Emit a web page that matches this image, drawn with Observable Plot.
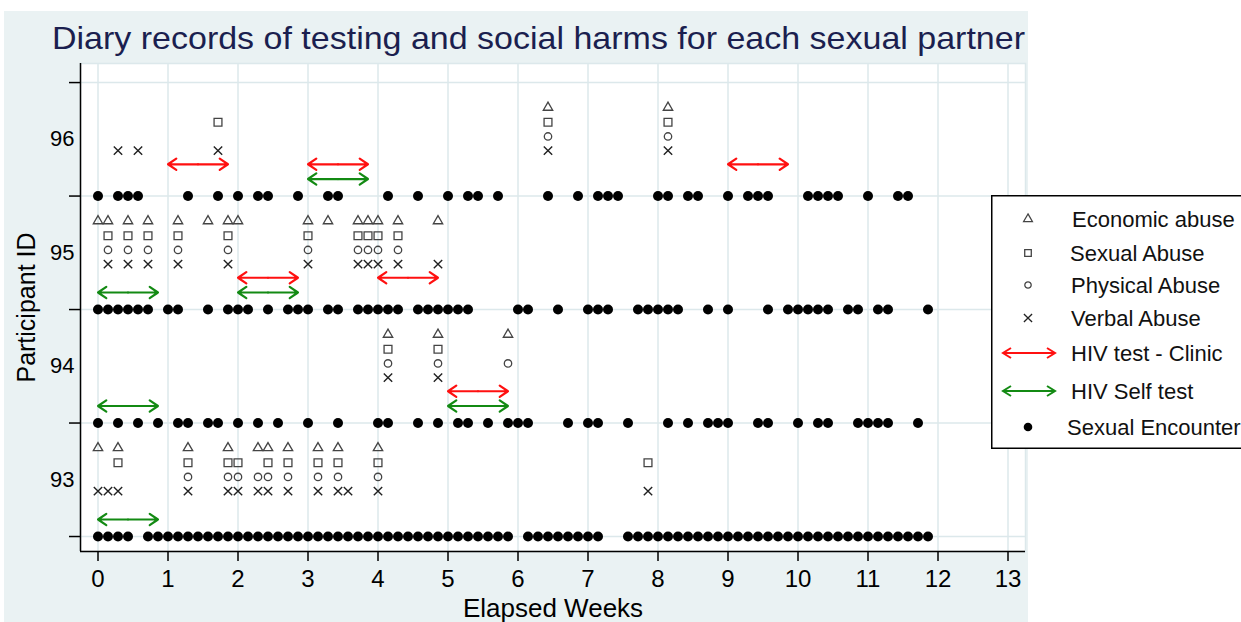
<!DOCTYPE html>
<html><head><meta charset="utf-8">
<script src="https://cdn.jsdelivr.net/npm/d3@7"></script>
<script src="https://cdn.jsdelivr.net/npm/@observablehq/plot@0.6"></script>
<style>
html,body{margin:0;padding:0;background:#fff;overflow:hidden;width:1241px;height:622px;}
#wrap{position:relative;width:1241px;height:622px;font-family:"Liberation Sans",Arial,sans-serif;overflow:hidden;}
#bg{position:absolute;left:4px;top:11px;width:1024px;height:611px;background:#eaf2f3;}
#chart{position:absolute;left:0;top:0;}
#title{position:absolute;left:0;top:0;}
#legend{position:absolute;left:991px;top:195px;}
</style></head><body>
<div id="wrap"><div id="bg"></div><div id="chart"></div><svg id="title" width="1241" height="62"></svg><svg id="legend" width="250" height="256"></svg></div>
<script>
// ---------- data ----------
const titleText = "Diary records of testing and social harms for each sexual partner";
const xLabel = "Elapsed Weeks";
const yLabel = "Participant ID";
const participants = [93, 94, 95, 96];
const weekTicks = [0,1,2,3,4,5,6,7,8,9,10,11,12,13];
const rowTicks = [92.5, 93.5, 94.5, 95.5, 96.5];

// sexual encounters (day of diary)
const encounter93 = [0,1,2,3,5,6,7,8,9,10,11,12,13,14,15,16,17,18,19,20,21,22,23,24,25,26,27,28,29,30,31,32,33,34,35,36,37,38,39,40,41,43,44,45,46,47,48,49,50,53,54,55,56,57,58,59,60,61,62,63,64,65,66,67,68,69,70,71,72,73,74,75,76,77,78,79,80,81,82,83];
const encounter94 = [0,2,4,6,8,9,11,12,14,16,18,21,24,28,29,32,34,36,37,39,41,42,43,47,49,50,53,57,59,61,62,63,66,67,70,72,73,76,77,78,79,82];
const encounter95 = [0,1,2,3,4,5,7,8,11,13,14,15,17,19,20,21,23,24,26,27,28,29,30,32,33,34,35,36,37,42,43,46,49,50,51,54,55,56,57,58,61,63,67,69,70,71,72,73,75,76,78,79,83];
const encounter96 = [0,2,3,4,9,12,14,16,17,20,23,24,29,32,35,37,38,40,45,48,50,51,52,56,57,59,60,63,65,66,67,71,72,73,74,77,80,81];

// social harms (day of diary)
const economic93 = [0,2,9,13,16,17,19,22,24,28];
const sexual93   = [2,9,13,14,17,19,22,24,28,55];
const physical93 = [9,13,14,16,17,19,22,24,28];
const verbal93   = [0,1,2,9,13,14,16,17,19,22,24,25,28,55];
const economic94 = [29,34,41];
const sexual94   = [29,34];
const physical94 = [29,34,41];
const verbal94   = [29,34];
const economic95 = [0,1,3,5,8,11,13,14,21,23,26,27,28,30,34];
const sexual95   = [1,3,5,8,13,21,26,27,28,30];
const physical95 = [1,3,5,8,13,21,26,27,28,30];
const verbal95   = [1,3,5,8,13,21,26,27,28,30,34];
const economic96 = [45,57];
const sexual96   = [12,45,57];
const physical96 = [45,57];
const verbal96   = [2,4,12,45,57];

// HIV tests: start day of each test week
const clinic93 = [];
const clinic94 = [35];
const clinic95 = [14,28];
const clinic96 = [7,21,63];
const self93 = [0];
const self94 = [0,35];
const self95 = [0,14];
const self96 = [21];
const testSpanDays = 6;

const legendLabels = ["Economic abuse","Sexual Abuse","Physical Abuse","Verbal Abuse","HIV test - Clinic","HIV Self test","Sexual Encounter"];

// ---------- build ----------
const gridColor = "#dce8eb";
const red = "#ff1010", green = "#138a13";
const markGrey = "#444";
const byP = (a93,a94,a95,a96) => ({93:a93,94:a94,95:a95,96:a96});
const enc = byP(encounter93,encounter94,encounter95,encounter96);
const eco = byP(economic93,economic94,economic95,economic96);
const sex = byP(sexual93,sexual94,sexual95,sexual96);
const phy = byP(physical93,physical94,physical95,physical96);
const ver = byP(verbal93,verbal94,verbal95,verbal96);
const cli = byP(clinic93,clinic94,clinic95,clinic96);
const slf = byP(self93,self94,self95,self96);

function pts(src, off) {
  return participants.flatMap(p => src[p].map(d => ({x: d / 7, y: p + off})));
}
function tests(src, off) {
  return participants.flatMap(p => src[p].map(d => ({x1: d / 7, x2: (d + testSpanDays) / 7, xm: (d + testSpanDays / 2) / 7, y: p + off})));
}
const encData = pts(enc, -0.5);
const ecoData = pts(eco, 0.28);
const sexData = pts(sex, 0.15);
const phyData = pts(phy, 0.025);
const verData = pts(ver, -0.1);
const cliData = tests(cli, -0.22);
const slfData = tests(slf, -0.35);

const xDomain = [-0.25, 13.25];
const yDomain = [92.368, 96.668];

function arrows(data, color) {
  const o = {y1: "y", y2: "y", stroke: color, strokeWidth: 2.2, headLength: 7, headAngle: 68};
  return [
    Plot.arrow(data, {...o, x1: "xm", x2: "x2"}),
    Plot.arrow(data, {...o, x1: "xm", x2: "x1"})
  ];
}

const chart = Plot.plot({
  width: 1241, height: 622,
  marginLeft: 80, marginRight: 216, marginTop: 63, marginBottom: 71,
  style: {background: "transparent", fontFamily: "Liberation Sans, Arial, sans-serif", color: "black", overflow: "visible"},
  x: {domain: xDomain, label: null},
  y: {domain: yDomain, label: null},
  marks: [
    Plot.frame({fill: "white", stroke: gridColor, strokeWidth: 1.5}),
    Plot.gridX({ticks: weekTicks, stroke: gridColor, strokeOpacity: 1, strokeWidth: 1.5}),
    Plot.gridY({ticks: rowTicks, stroke: gridColor, strokeOpacity: 1, strokeWidth: 1.5}),
    Plot.axisX({ticks: weekTicks, tickSize: 10, tickPadding: 8, fontSize: 24, label: null, strokeWidth: 1.5, tickFormat: "d"}),
    Plot.axisY({ticks: participants, tickSize: 0, tickPadding: 6, fontSize: 22, label: null, tickFormat: "d"}),
    Plot.axisY({ticks: rowTicks, tickSize: 11, tickFormat: () => "", label: null, strokeWidth: 1.5}),
    Plot.ruleX([xDomain[0]], {stroke: "black", strokeWidth: 1.5}),
    Plot.ruleY([yDomain[0]], {stroke: "black", strokeWidth: 1.5}),
    Plot.text([xLabel], {frameAnchor: "bottom", dy: 57, fontSize: 26, lineAnchor: "middle", textAnchor: "middle", fill: "black"}),
    Plot.text([yLabel], {frameAnchor: "left", dx: -54, rotate: -90, fontSize: 25, lineAnchor: "middle", textAnchor: "middle", fill: "black"}),
    ...arrows(cliData, red),
    ...arrows(slfData, green),
    Plot.dot(ecoData, {x: "x", y: "y", symbol: "triangle2", r: 4.5, stroke: markGrey, strokeWidth: 1.3, fill: "none"}),
    Plot.dot(sexData, {x: "x", y: "y", symbol: "square2", r: 5, stroke: markGrey, strokeWidth: 1.3, fill: "none"}),
    Plot.dot(phyData, {x: "x", y: "y", symbol: "circle", r: 3.7, stroke: markGrey, strokeWidth: 1.3, fill: "none"}),
    Plot.dot(verData, {x: "x", y: "y", symbol: "times", r: 3.9, stroke: "#222", strokeWidth: 1.4, fill: "none"}),
    Plot.dot(encData, {x: "x", y: "y", r: 5, fill: "black", stroke: "none"})
  ]
});
document.getElementById("chart").appendChild(chart);

// title
d3.select("#title").append("text")
  .attr("x", 52).attr("y", 49)
  .attr("font-family", "Liberation Sans, Arial, sans-serif")
  .attr("font-size", 32).attr("fill", "#1b1f4f")
  .attr("textLength", 973).attr("lengthAdjust", "spacingAndGlyphs")
  .text(titleText);

// legend
const lg = d3.select("#legend");
lg.append("rect").attr("x", 0.75).attr("y", 0.75).attr("width", 270).attr("height", 252.5)
  .attr("fill", "white").attr("stroke", "black").attr("stroke-width", 1.5);
const rowY = [24, 58, 90, 123, 158, 196, 232];
const textX = [81, 79, 80, 80, 80, 80, 76];
const syms = [d3.symbolTriangle2, d3.symbolSquare2, d3.symbolCircle, d3.symbolTimes];
const symSize = [55, 55, 32, 45];
syms.forEach((s, i) => {
  lg.append("path").attr("d", d3.symbol(s, symSize[i])()).attr("transform", `translate(37,${rowY[i]})`)
    .attr("fill", "none").attr("stroke", i === 3 ? "#222" : markGrey).attr("stroke-width", 1.3);
});
[[4, red], [5, green]].forEach(([i, c]) => {
  const y = rowY[i];
  lg.append("path").attr("d", `M12,${y}H64M20,${y-5}L12,${y}L20,${y+5}M56,${y-5}L64,${y}L56,${y+5}`)
    .attr("fill", "none").attr("stroke", c).attr("stroke-width", 2);
});
lg.append("circle").attr("cx", 37).attr("cy", rowY[6]).attr("r", 4.3).attr("fill", "black");
legendLabels.forEach((t, i) => {
  lg.append("text").attr("x", textX[i]).attr("y", rowY[i]).attr("dy", "0.36em")
    .attr("font-family", "Liberation Sans, Arial, sans-serif").attr("font-size", 22).attr("fill", "#111").text(t);
});
</script>
</body></html>
